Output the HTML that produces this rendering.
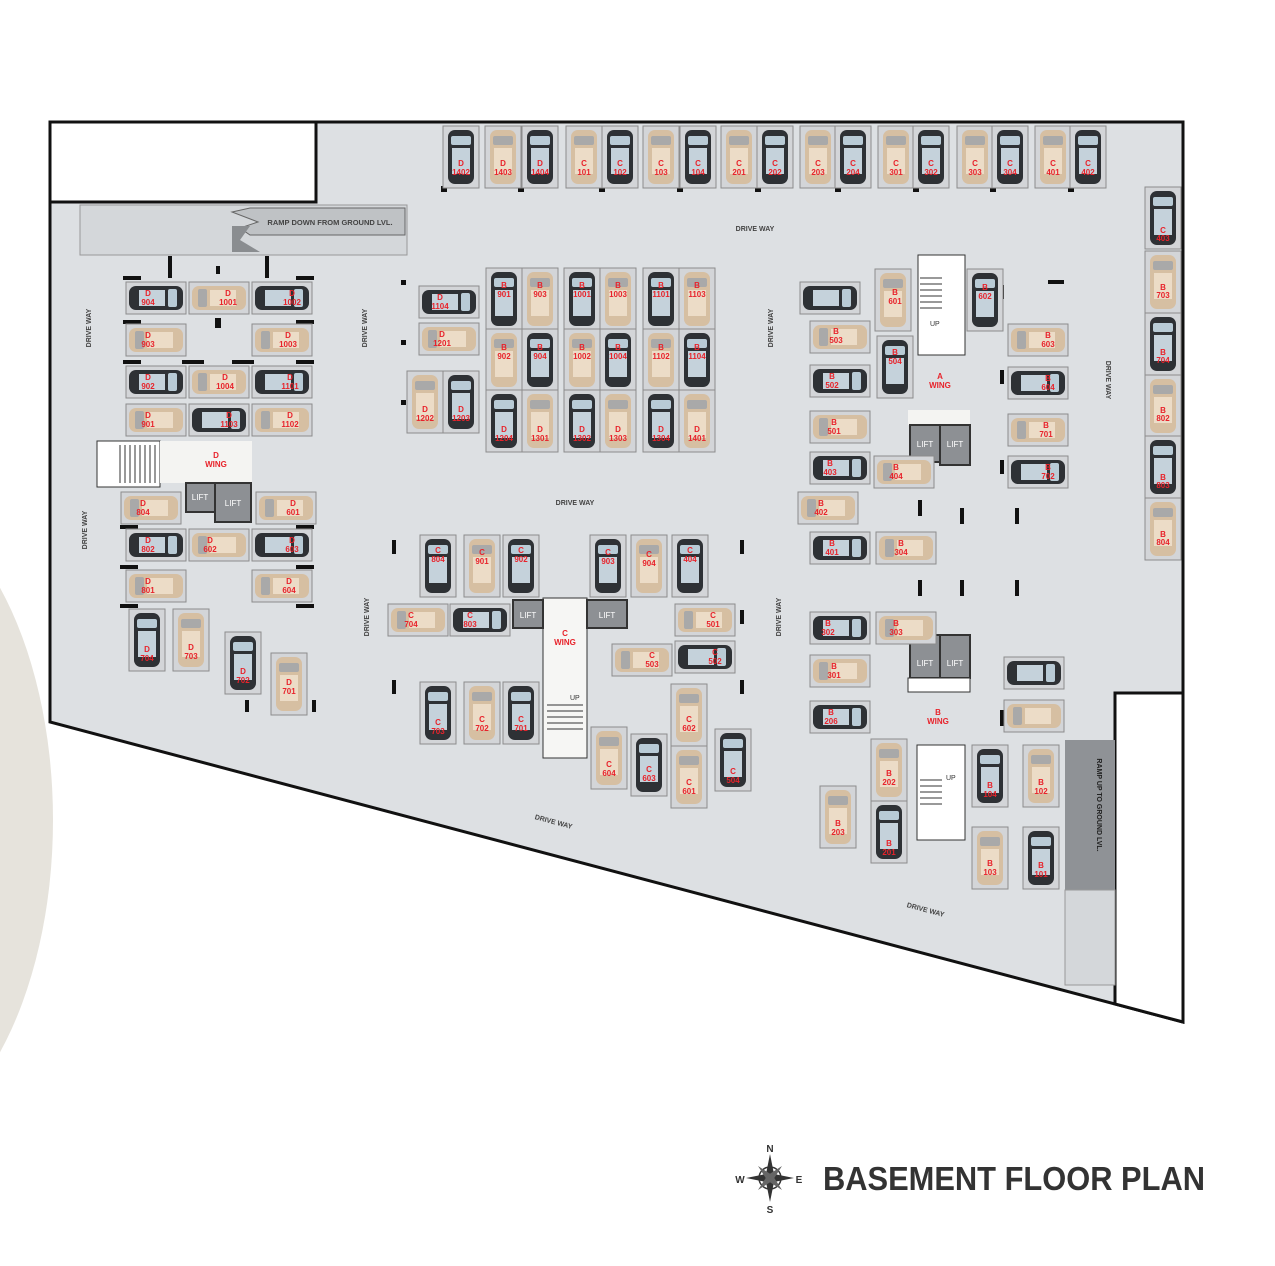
<!DOCTYPE html>
<html><head><meta charset="utf-8"><style>
html,body{margin:0;padding:0;background:#fff}
svg{display:block}
.t text{font-family:"Liberation Sans",sans-serif;font-size:8px;font-weight:bold;fill:#e8232b;text-anchor:middle}
.dw{font-family:"Liberation Sans",sans-serif;font-size:7px;font-weight:bold;fill:#444;text-anchor:middle}
.lf{font-family:"Liberation Sans",sans-serif;font-size:8px;fill:#fff;text-anchor:middle}
.wg{font-family:"Liberation Sans",sans-serif;font-size:8px;font-weight:bold;fill:#e8232b;text-anchor:middle}
</style></head><body>
<svg width="1275" height="1266" viewBox="0 0 1275 1266" xmlns="http://www.w3.org/2000/svg">
<defs>
<g id="vd"><rect x="-18" y="-31" width="36" height="62" fill="#d3d5d8" stroke="#8c8c8c"/><rect x="-13" y="-27" width="26" height="54" rx="7" fill="#2e3135"/><rect x="-10" y="-21" width="20" height="9" rx="2" fill="#b9cbd6"/><rect x="-9" y="-9" width="18" height="26" fill="#c5d2db"/></g>
<g id="vb"><rect x="-18" y="-31" width="36" height="62" fill="#d3d5d8" stroke="#8c8c8c"/><rect x="-13" y="-27" width="26" height="54" rx="7" fill="#d6bfa2"/><rect x="-10" y="-21" width="20" height="9" rx="2" fill="#a9a9a9"/><rect x="-9" y="-9" width="18" height="26" fill="#ecdcc7"/></g>
<g id="hd"><g transform="rotate(90)"><rect x="-16" y="-30" width="32" height="60" fill="#d3d5d8" stroke="#8c8c8c"/><rect x="-12" y="-27" width="24" height="54" rx="7" fill="#2e3135"/><rect x="-9" y="-21" width="18" height="9" rx="2" fill="#b9cbd6"/><rect x="-8" y="-9" width="16" height="26" fill="#c5d2db"/></g></g>
<g id="hb"><g transform="rotate(-90)"><rect x="-16" y="-30" width="32" height="60" fill="#d3d5d8" stroke="#8c8c8c"/><rect x="-12" y="-27" width="24" height="54" rx="7" fill="#d6bfa2"/><rect x="-9" y="-21" width="18" height="9" rx="2" fill="#a9a9a9"/><rect x="-8" y="-9" width="16" height="26" fill="#ecdcc7"/></g></g>
</defs>
<ellipse cx="-130" cy="820" rx="183" ry="330" fill="#e6e3dc"/>
<polygon points="50,122 1183,122 1183,1022 50,722" fill="#dde0e3" stroke="#111" stroke-width="3"/>
<rect x="50" y="122" width="266" height="80" fill="#fff" stroke="#111" stroke-width="3"/>
<polygon points="1115,693 1183,693 1183,1022 1115,1004" fill="#fff" stroke="#111" stroke-width="3"/>
<!-- ramps -->
<rect x="80" y="205" width="327" height="50" fill="#d4d7da" stroke="#999"/>
<polygon points="250,208 405,208 405,235 250,235 240,228 258,222 232,212" fill="#bfc2c5" stroke="#666"/>
<polygon points="232,226 250,226 240,240 260,252 232,252" fill="#8a8d90"/>
<text x="330" y="225" class="dw" style="font-size:7.5px">RAMP DOWN FROM GROUND LVL.</text>
<rect x="1065" y="740" width="50" height="150" fill="#8f9296"/>
<rect x="1065" y="890" width="50" height="95" fill="#d4d7da" stroke="#999"/>
<text transform="translate(1097,805) rotate(90)" class="dw" style="fill:#222">RAMP UP TO GROUND LVL.</text>
<!-- drive way labels -->
<text x="755" y="231" class="dw">DRIVE WAY</text>
<text x="575" y="505" class="dw">DRIVE WAY</text>
<text transform="translate(91,328) rotate(-90)" class="dw">DRIVE WAY</text>
<text transform="translate(367,328) rotate(-90)" class="dw">DRIVE WAY</text>
<text transform="translate(773,328) rotate(-90)" class="dw">DRIVE WAY</text>
<text transform="translate(1106,380) rotate(90)" class="dw">DRIVE WAY</text>
<text transform="translate(87,530) rotate(-90)" class="dw">DRIVE WAY</text>
<text transform="translate(369,617) rotate(-90)" class="dw">DRIVE WAY</text>
<text transform="translate(781,617) rotate(-90)" class="dw">DRIVE WAY</text>
<text transform="translate(553,824) rotate(15)" class="dw">DRIVE WAY</text>
<text transform="translate(925,912) rotate(15)" class="dw">DRIVE WAY</text>
<!-- cores -->
<rect x="97" y="441" width="63" height="46" fill="#fff" stroke="#333"/>
<g stroke="#333" stroke-width="1"><line x1="120" y1="445" x2="120" y2="483"/><line x1="125" y1="445" x2="125" y2="483"/><line x1="130" y1="445" x2="130" y2="483"/><line x1="135" y1="445" x2="135" y2="483"/><line x1="140" y1="445" x2="140" y2="483"/><line x1="145" y1="445" x2="145" y2="483"/><line x1="150" y1="445" x2="150" y2="483"/><line x1="155" y1="445" x2="155" y2="483"/></g>
<rect x="160" y="441" width="92" height="42" fill="#f4f4f2"/>
<text x="216" y="458" class="wg">D</text><text x="216" y="467" class="wg">WING</text>
<rect x="186" y="483" width="29" height="29" fill="#8d9094" stroke="#333" stroke-width="2"/><text x="200" y="500" class="lf">LIFT</text>
<rect x="215" y="483" width="36" height="39" fill="#8d9094" stroke="#333" stroke-width="2"/><text x="233" y="506" class="lf">LIFT</text>
<rect x="918" y="255" width="47" height="100" fill="#fff" stroke="#333"/>
<g stroke="#333"><line x1="920" y1="278" x2="942" y2="278"/><line x1="920" y1="284" x2="942" y2="284"/><line x1="920" y1="290" x2="942" y2="290"/><line x1="920" y1="296" x2="942" y2="296"/><line x1="920" y1="302" x2="942" y2="302"/><line x1="920" y1="308" x2="942" y2="308"/></g>
<text x="930" y="326" style="font:7px 'Liberation Sans',sans-serif;fill:#333">UP</text>
<text x="940" y="379" class="wg">A</text><text x="940" y="388" class="wg">WING</text>
<rect x="908" y="410" width="62" height="15" fill="#f4f4f2"/>
<rect x="910" y="425" width="30" height="37" fill="#8d9094" stroke="#333" stroke-width="2"/><text x="925" y="447" class="lf">LIFT</text>
<rect x="940" y="425" width="30" height="40" fill="#8d9094" stroke="#333" stroke-width="2"/><text x="955" y="447" class="lf">LIFT</text>
<rect x="910" y="635" width="30" height="43" fill="#8d9094" stroke="#333" stroke-width="2"/><text x="925" y="666" class="lf">LIFT</text>
<rect x="940" y="635" width="30" height="43" fill="#8d9094" stroke="#333" stroke-width="2"/><text x="955" y="666" class="lf">LIFT</text>
<rect x="908" y="678" width="62" height="14" fill="#fff" stroke="#333"/>
<text x="938" y="715" class="wg">B</text><text x="938" y="724" class="wg">WING</text>
<rect x="917" y="745" width="48" height="95" fill="#fff" stroke="#333"/>
<g stroke="#333"><line x1="920" y1="780" x2="942" y2="780"/><line x1="920" y1="786" x2="942" y2="786"/><line x1="920" y1="792" x2="942" y2="792"/><line x1="920" y1="798" x2="942" y2="798"/><line x1="920" y1="804" x2="942" y2="804"/></g>
<text x="946" y="780" style="font:7px 'Liberation Sans',sans-serif;fill:#333">UP</text>
<rect x="543" y="598" width="44" height="160" fill="#f6f6f4" stroke="#333"/>
<text x="565" y="636" class="wg">C</text><text x="565" y="645" class="wg">WING</text>
<g stroke="#333"><line x1="547" y1="705" x2="583" y2="705"/><line x1="547" y1="711" x2="583" y2="711"/><line x1="547" y1="717" x2="583" y2="717"/><line x1="547" y1="723" x2="583" y2="723"/><line x1="547" y1="729" x2="583" y2="729"/></g>
<text x="570" y="700" style="font:7px 'Liberation Sans',sans-serif;fill:#333">UP</text>
<rect x="513" y="600" width="30" height="28" fill="#8d9094" stroke="#333" stroke-width="2"/><text x="528" y="618" class="lf">LIFT</text>
<rect x="587" y="600" width="40" height="28" fill="#8d9094" stroke="#333" stroke-width="2"/><text x="607" y="618" class="lf">LIFT</text>
<!-- column markers -->
<g fill="#111">
<rect x="123" y="276" width="18" height="4"/><rect x="168" y="256" width="4" height="22"/><rect x="216" y="266" width="4" height="8"/><rect x="265" y="256" width="4" height="22"/><rect x="296" y="276" width="18" height="4"/>
<rect x="123" y="320" width="18" height="4"/><rect x="296" y="320" width="18" height="4"/><rect x="215" y="318" width="6" height="10"/>
<rect x="123" y="360" width="18" height="4"/><rect x="182" y="360" width="22" height="4"/><rect x="232" y="360" width="22" height="4"/><rect x="296" y="360" width="18" height="4"/>
<rect x="120" y="525" width="18" height="4"/><rect x="296" y="525" width="18" height="4"/><rect x="120" y="565" width="18" height="4"/><rect x="296" y="565" width="18" height="4"/><rect x="120" y="604" width="18" height="4"/><rect x="296" y="604" width="18" height="4"/>
<rect x="401" y="280" width="5" height="5"/><rect x="401" y="340" width="5" height="5"/><rect x="401" y="400" width="5" height="5"/>
<rect x="441" y="186" width="6" height="6"/><rect x="518" y="186" width="6" height="6"/><rect x="599" y="186" width="6" height="6"/><rect x="677" y="186" width="6" height="6"/><rect x="755" y="186" width="6" height="6"/><rect x="835" y="186" width="6" height="6"/><rect x="913" y="186" width="6" height="6"/><rect x="990" y="186" width="6" height="6"/><rect x="1068" y="186" width="6" height="6"/>
<rect x="1000" y="285" width="4" height="14"/><rect x="1000" y="370" width="4" height="14"/><rect x="1000" y="460" width="4" height="14"/><rect x="1048" y="280" width="16" height="4"/>
<rect x="918" y="500" width="4" height="16"/><rect x="960" y="508" width="4" height="16"/><rect x="1015" y="508" width="4" height="16"/><rect x="918" y="580" width="4" height="16"/><rect x="960" y="580" width="4" height="16"/><rect x="1015" y="580" width="4" height="16"/><rect x="1000" y="710" width="4" height="16"/>
<rect x="392" y="540" width="4" height="14"/><rect x="392" y="610" width="4" height="14"/><rect x="392" y="680" width="4" height="14"/><rect x="740" y="540" width="4" height="14"/><rect x="740" y="610" width="4" height="14"/><rect x="740" y="680" width="4" height="14"/>
<rect x="245" y="700" width="4" height="12"/><rect x="312" y="700" width="4" height="12"/>
</g>
<!-- spots -->
<g class="t">
<use href="#vd" x="461" y="157"/><text x="461" y="166">D</text><text x="461" y="175">1402</text>
<use href="#vb" x="503" y="157"/><text x="503" y="166">D</text><text x="503" y="175">1403</text>
<use href="#vd" x="540" y="157"/><text x="540" y="166">D</text><text x="540" y="175">1404</text>
<use href="#vb" x="584" y="157"/><text x="584" y="166">C</text><text x="584" y="175">101</text>
<use href="#vd" x="620" y="157"/><text x="620" y="166">C</text><text x="620" y="175">102</text>
<use href="#vb" x="661" y="157"/><text x="661" y="166">C</text><text x="661" y="175">103</text>
<use href="#vd" x="698" y="157"/><text x="698" y="166">C</text><text x="698" y="175">104</text>
<use href="#vb" x="739" y="157"/><text x="739" y="166">C</text><text x="739" y="175">201</text>
<use href="#vd" x="775" y="157"/><text x="775" y="166">C</text><text x="775" y="175">202</text>
<use href="#vb" x="818" y="157"/><text x="818" y="166">C</text><text x="818" y="175">203</text>
<use href="#vd" x="853" y="157"/><text x="853" y="166">C</text><text x="853" y="175">204</text>
<use href="#vb" x="896" y="157"/><text x="896" y="166">C</text><text x="896" y="175">301</text>
<use href="#vd" x="931" y="157"/><text x="931" y="166">C</text><text x="931" y="175">302</text>
<use href="#vb" x="975" y="157"/><text x="975" y="166">C</text><text x="975" y="175">303</text>
<use href="#vd" x="1010" y="157"/><text x="1010" y="166">C</text><text x="1010" y="175">304</text>
<use href="#vb" x="1053" y="157"/><text x="1053" y="166">C</text><text x="1053" y="175">401</text>
<use href="#vd" x="1088" y="157"/><text x="1088" y="166">C</text><text x="1088" y="175">402</text>

<use href="#vd" x="1163" y="218"/><text x="1163" y="233">C</text><text x="1163" y="241">403</text>
<use href="#vb" x="1163" y="282"/><text x="1163" y="290">B</text><text x="1163" y="298">703</text>
<use href="#vd" x="1163" y="344"/><text x="1163" y="355">B</text><text x="1163" y="363">704</text>
<use href="#vb" x="1163" y="406"/><text x="1163" y="413">B</text><text x="1163" y="421">802</text>
<use href="#vd" x="1163" y="467"/><text x="1163" y="480">B</text><text x="1163" y="488">803</text>
<use href="#vb" x="1163" y="529"/><text x="1163" y="537">B</text><text x="1163" y="545">804</text>

<use href="#hd" x="156" y="298"/><text x="148" y="296">D</text><text x="148" y="305">904</text>
<use href="#hb" x="219" y="298"/><text x="228" y="296">D</text><text x="228" y="305">1001</text>
<use href="#hd" x="282" y="298"/><text x="292" y="296">D</text><text x="292" y="305">1002</text>
<use href="#hb" x="156" y="340"/><text x="148" y="338">D</text><text x="148" y="347">903</text>
<use href="#hb" x="282" y="340"/><text x="288" y="338">D</text><text x="288" y="347">1003</text>
<use href="#hd" x="156" y="382"/><text x="148" y="380">D</text><text x="148" y="389">902</text>
<use href="#hb" x="219" y="382"/><text x="225" y="380">D</text><text x="225" y="389">1004</text>
<use href="#hd" x="282" y="382"/><text x="290" y="380">D</text><text x="290" y="389">1101</text>
<use href="#hb" x="156" y="420"/><text x="148" y="418">D</text><text x="148" y="427">901</text>
<use href="#hd" x="219" y="420"/><text x="229" y="418">D</text><text x="229" y="427">1103</text>
<use href="#hb" x="282" y="420"/><text x="290" y="418">D</text><text x="290" y="427">1102</text>
<use href="#hb" x="151" y="508"/><text x="143" y="506">D</text><text x="143" y="515">804</text>
<use href="#hb" x="286" y="508"/><text x="293" y="506">D</text><text x="293" y="515">601</text>
<use href="#hd" x="156" y="545"/><text x="148" y="543">D</text><text x="148" y="552">802</text>
<use href="#hb" x="219" y="545"/><text x="210" y="543">D</text><text x="210" y="552">602</text>
<use href="#hd" x="282" y="545"/><text x="292" y="543">D</text><text x="292" y="552">603</text>
<use href="#hb" x="156" y="586"/><text x="148" y="584">D</text><text x="148" y="593">801</text>
<use href="#hb" x="282" y="586"/><text x="289" y="584">D</text><text x="289" y="593">604</text>
<use href="#vd" x="147" y="640"/><text x="147" y="652">D</text><text x="147" y="661">704</text>
<use href="#vb" x="191" y="640"/><text x="191" y="650">D</text><text x="191" y="659">703</text>
<use href="#vd" x="243" y="663"/><text x="243" y="674">D</text><text x="243" y="683">702</text>
<use href="#vb" x="289" y="684"/><text x="289" y="685">D</text><text x="289" y="694">701</text>

<use href="#hd" x="449" y="302"/><text x="440" y="300">D</text><text x="440" y="309">1104</text>
<use href="#hb" x="449" y="339"/><text x="442" y="337">D</text><text x="442" y="346">1201</text>
<use href="#vb" x="425" y="402"/><text x="425" y="412">D</text><text x="425" y="421">1202</text>
<use href="#vd" x="461" y="402"/><text x="461" y="412">D</text><text x="461" y="421">1203</text>
<use href="#vd" x="504" y="299"/><text x="504" y="288">B</text><text x="504" y="297">901</text>
<use href="#vb" x="540" y="299"/><text x="540" y="288">B</text><text x="540" y="297">903</text>
<use href="#vd" x="582" y="299"/><text x="582" y="288">B</text><text x="582" y="297">1001</text>
<use href="#vb" x="618" y="299"/><text x="618" y="288">B</text><text x="618" y="297">1003</text>
<use href="#vd" x="661" y="299"/><text x="661" y="288">B</text><text x="661" y="297">1101</text>
<use href="#vb" x="697" y="299"/><text x="697" y="288">B</text><text x="697" y="297">1103</text>
<use href="#vb" x="504" y="360"/><text x="504" y="350">B</text><text x="504" y="359">902</text>
<use href="#vd" x="540" y="360"/><text x="540" y="350">B</text><text x="540" y="359">904</text>
<use href="#vb" x="582" y="360"/><text x="582" y="350">B</text><text x="582" y="359">1002</text>
<use href="#vd" x="618" y="360"/><text x="618" y="350">B</text><text x="618" y="359">1004</text>
<use href="#vb" x="661" y="360"/><text x="661" y="350">B</text><text x="661" y="359">1102</text>
<use href="#vd" x="697" y="360"/><text x="697" y="350">B</text><text x="697" y="359">1104</text>
<use href="#vd" x="504" y="421"/><text x="504" y="432">D</text><text x="504" y="441">1204</text>
<use href="#vb" x="540" y="421"/><text x="540" y="432">D</text><text x="540" y="441">1301</text>
<use href="#vd" x="582" y="421"/><text x="582" y="432">D</text><text x="582" y="441">1302</text>
<use href="#vb" x="618" y="421"/><text x="618" y="432">D</text><text x="618" y="441">1303</text>
<use href="#vd" x="661" y="421"/><text x="661" y="432">D</text><text x="661" y="441">1304</text>
<use href="#vb" x="697" y="421"/><text x="697" y="432">D</text><text x="697" y="441">1401</text>

<use href="#vd" x="438" y="566"/><text x="438" y="553">C</text><text x="438" y="562">804</text>
<use href="#vb" x="482" y="566"/><text x="482" y="555">C</text><text x="482" y="564">901</text>
<use href="#vd" x="521" y="566"/><text x="521" y="553">C</text><text x="521" y="562">902</text>
<use href="#vd" x="608" y="566"/><text x="608" y="555">C</text><text x="608" y="564">903</text>
<use href="#vb" x="649" y="566"/><text x="649" y="557">C</text><text x="649" y="566">904</text>
<use href="#vd" x="690" y="566"/><text x="690" y="553">C</text><text x="690" y="562">404</text>
<use href="#hb" x="418" y="620"/><text x="411" y="618">C</text><text x="411" y="627">704</text>
<use href="#hd" x="480" y="620"/><text x="470" y="618">C</text><text x="470" y="627">803</text>
<use href="#hb" x="705" y="620"/><text x="713" y="618">C</text><text x="713" y="627">501</text>
<use href="#hb" x="642" y="660"/><text x="652" y="658">C</text><text x="652" y="667">503</text>
<use href="#hd" x="705" y="657"/><text x="715" y="655">C</text><text x="715" y="664">502</text>
<use href="#vd" x="438" y="713"/><text x="438" y="725">C</text><text x="438" y="734">703</text>
<use href="#vb" x="482" y="713"/><text x="482" y="722">C</text><text x="482" y="731">702</text>
<use href="#vd" x="521" y="713"/><text x="521" y="722">C</text><text x="521" y="731">701</text>
<use href="#vb" x="689" y="715"/><text x="689" y="722">C</text><text x="689" y="731">602</text>
<use href="#vb" x="609" y="758"/><text x="609" y="767">C</text><text x="609" y="776">604</text>
<use href="#vd" x="649" y="765"/><text x="649" y="772">C</text><text x="649" y="781">603</text>
<use href="#vb" x="689" y="777"/><text x="689" y="785">C</text><text x="689" y="794">601</text>
<use href="#vd" x="733" y="760"/><text x="733" y="774">C</text><text x="733" y="783">504</text>

<use href="#hd" x="830" y="298"/>
<use href="#hb" x="840" y="337"/><text x="836" y="334">B</text><text x="836" y="343">503</text>
<use href="#hd" x="840" y="381"/><text x="832" y="379">B</text><text x="832" y="388">502</text>
<use href="#hb" x="840" y="427"/><text x="834" y="425">B</text><text x="834" y="434">501</text>
<use href="#hd" x="840" y="468"/><text x="830" y="466">B</text><text x="830" y="475">403</text>
<use href="#hb" x="828" y="508"/><text x="821" y="506">B</text><text x="821" y="515">402</text>
<use href="#hd" x="840" y="548"/><text x="832" y="546">B</text><text x="832" y="555">401</text>
<use href="#vb" x="893" y="300"/><text x="895" y="295">B</text><text x="895" y="304">601</text>
<use href="#vd" x="895" y="367"/><text x="895" y="355">B</text><text x="895" y="364">504</text>
<use href="#vd" x="985" y="300"/><text x="985" y="290">B</text><text x="985" y="299">602</text>
<use href="#hb" x="904" y="472"/><text x="896" y="470">B</text><text x="896" y="479">404</text>
<use href="#hb" x="906" y="548"/><text x="901" y="546">B</text><text x="901" y="555">304</text>
<use href="#hb" x="1038" y="340"/><text x="1048" y="338">B</text><text x="1048" y="347">603</text>
<use href="#hd" x="1038" y="383"/><text x="1048" y="381">B</text><text x="1048" y="390">604</text>
<use href="#hb" x="1038" y="430"/><text x="1046" y="428">B</text><text x="1046" y="437">701</text>
<use href="#hd" x="1038" y="472"/><text x="1048" y="470">B</text><text x="1048" y="479">702</text>
<use href="#hd" x="840" y="628"/><text x="828" y="626">B</text><text x="828" y="635">302</text>
<use href="#hb" x="906" y="628"/><text x="896" y="626">B</text><text x="896" y="635">303</text>
<use href="#hb" x="840" y="671"/><text x="834" y="669">B</text><text x="834" y="678">301</text>
<use href="#hd" x="840" y="717"/><text x="831" y="715">B</text><text x="831" y="724">206</text>
<use href="#hd" x="1034" y="673"/>
<use href="#hb" x="1034" y="716"/>
<use href="#vb" x="838" y="817"/><text x="838" y="826">B</text><text x="838" y="835">203</text>
<use href="#vb" x="889" y="770"/><text x="889" y="776">B</text><text x="889" y="785">202</text>
<use href="#vd" x="889" y="832"/><text x="889" y="846">B</text><text x="889" y="855">201</text>
<use href="#vd" x="990" y="776"/><text x="990" y="788">B</text><text x="990" y="797">104</text>
<use href="#vb" x="1041" y="776"/><text x="1041" y="785">B</text><text x="1041" y="794">102</text>
<use href="#vb" x="990" y="858"/><text x="990" y="866">B</text><text x="990" y="875">103</text>
<use href="#vd" x="1041" y="858"/><text x="1041" y="868">B</text><text x="1041" y="877">101</text>
</g>
<!-- compass -->
<g transform="translate(770,1178)">
<circle r="11" fill="none" stroke="#333" stroke-width="1.5"/>
<polygon points="0,-24 4,-4 0,0 -4,-4" fill="#333"/><polygon points="0,24 4,4 0,0 -4,4" fill="#333"/>
<polygon points="-24,0 -4,-4 0,0 -4,4" fill="#333"/><polygon points="24,0 4,-4 0,0 4,4" fill="#333"/>
<polygon points="-12,-12 2,-3 0,0 -3,2" fill="#666"/><polygon points="12,12 -2,3 0,0 3,-2" fill="#666"/>
<polygon points="12,-12 3,2 0,0 -2,-3" fill="#666"/><polygon points="-12,12 -3,-2 0,0 2,3" fill="#666"/>
<text x="0" y="-26" style="font:bold 10px 'Liberation Sans',sans-serif;fill:#333;text-anchor:middle">N</text>
<text x="0" y="35" style="font:bold 10px 'Liberation Sans',sans-serif;fill:#333;text-anchor:middle">S</text>
<text x="-30" y="5" style="font:bold 10px 'Liberation Sans',sans-serif;fill:#333;text-anchor:middle">W</text>
<text x="29" y="5" style="font:bold 10px 'Liberation Sans',sans-serif;fill:#333;text-anchor:middle">E</text>
</g>
<text x="823" y="1190" textLength="382" lengthAdjust="spacingAndGlyphs" style="font:bold 33px 'Liberation Sans',sans-serif;fill:#333">BASEMENT FLOOR PLAN</text>
</svg>
</body></html>
